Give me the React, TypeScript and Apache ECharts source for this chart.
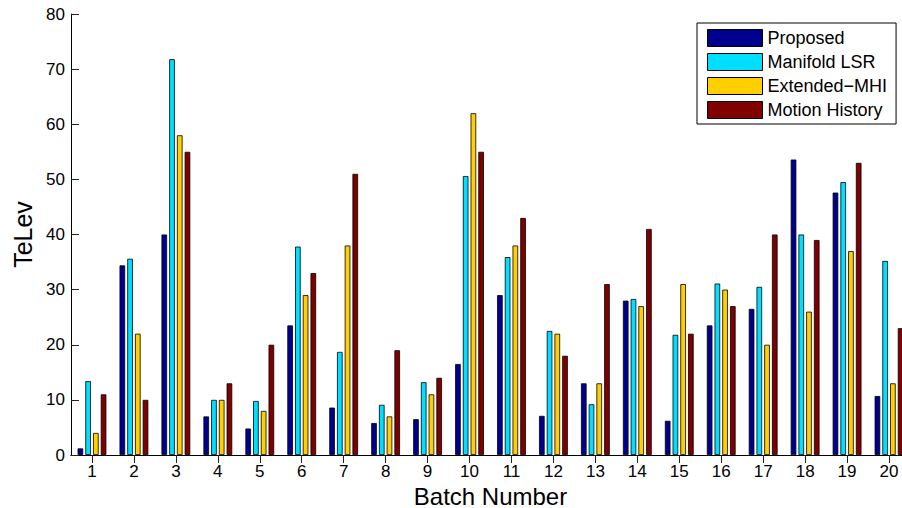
import React, { useEffect, useRef } from "react";
import * as echarts from "echarts";

const categories = ["1","2","3","4","5","6","7","8","9","10","11","12","13","14","15","16","17","18","19","20"];
const seriesNames = ["Proposed", "Manifold LSR", "Extended\u2212MHI", "Motion History"];
const proposed = [1.2, 34.4, 40, 7, 4.8, 23.5, 8.6, 5.8, 6.5, 16.5, 29, 7.1, 13, 28, 6.2, 23.5, 26.5, 53.6, 47.6, 10.7];
const manifoldLSR = [13.4, 35.6, 71.8, 10, 9.8, 37.8, 18.7, 9.1, 13.2, 50.6, 35.9, 22.5, 9.2, 28.3, 21.8, 31.1, 30.5, 40, 49.5, 35.2];
const extendedMHI = [4, 22, 58, 10, 8, 29, 38, 7, 11, 62, 38, 22, 13, 27, 31, 30, 20, 26, 37, 13];
const motionHistory = [11, 10, 55, 13, 20, 33, 51, 19, 14, 55, 43, 18, 31, 41, 22, 27, 40, 39, 53, 23];
const colors = ["#00008F", "#00DFFF", "#FFCF00", "#800000"];

const FONT = "'Liberation Sans', Arial, Helvetica, sans-serif";

export default function App() {
  const ref = useRef<HTMLDivElement>(null);
  useEffect(() => {
    if (!ref.current) return;
    const chart = echarts.init(ref.current, undefined, { renderer: "svg" });
    const data = [proposed, manifoldLSR, extendedMHI, motionHistory];
    const axisLine = { show: true, lineStyle: { color: "#000", width: 1 } };
    const tick = { show: true, inside: true, length: 8, lineStyle: { color: "#222", width: 1 } };
    chart.setOption({
      animation: false,
      backgroundColor: "#fff",
      grid: { left: 71, top: 14, bottom: 53, right: -8, containLabel: false, outerBoundsMode: "none" },
      legend: {
        data: seriesNames,
        orient: "vertical",
        left: 697,
        top: 23,
        itemWidth: 55,
        itemHeight: 17,
        itemGap: 6,
        padding: [6, 9, 5, 10],
        borderColor: "#000",
        borderWidth: 1,
        backgroundColor: "#fff",
        icon: "rect",
        itemStyle: { borderColor: "#000", borderWidth: 1 },
        textStyle: { fontSize: 18, fontFamily: FONT, color: "#000", lineHeight: 17 },
      },
      xAxis: [
        {
          type: "category",
          data: categories,
          position: "bottom",
          axisLine,
          axisTick: { show: false },
          axisLabel: { fontSize: 17, fontFamily: FONT, color: "#000", margin: 8 },
          name: "Batch Number",
          nameLocation: "middle",
          nameGap: 23,
          nameTextStyle: { fontSize: 24, fontFamily: FONT, color: "#000", lineHeight: 24 },
          splitLine: { show: false },
        },
        {
          type: "category",
          data: categories,
          position: "top",
          axisLine,
          axisTick: { ...tick, alignWithLabel: true },
          axisLabel: { show: false },
          splitLine: { show: false },
        },
      ],
      yAxis: [
        {
          type: "value",
          min: 0,
          max: 80,
          interval: 10,
          position: "left",
          axisLine,
          axisTick: tick,
          axisLabel: { fontSize: 17, fontFamily: FONT, color: "#000", margin: 6 },
          name: "TeLev",
          nameLocation: "middle",
          nameGap: 36,
          nameTextStyle: { fontSize: 25, fontFamily: FONT, color: "#000", lineHeight: 25 },
          splitLine: { show: false },
        },
        {
          type: "value",
          min: 0,
          max: 80,
          interval: 10,
          position: "right",
          axisLine,
          axisTick: tick,
          axisLabel: { show: false },
          splitLine: { show: false },
        },
      ],
      series: seriesNames.map((name, i) => ({
        name,
        type: "bar",
        data: data[i],
        xAxisIndex: 0,
        yAxisIndex: 0,
        barWidth: 5.6,
        barGap: "38%",
        itemStyle: { color: colors[i], borderColor: "#000", borderWidth: 0.8 },
      })),
    });
    return () => chart.dispose();
  }, []);
  return (
    <div
      ref={ref}
      style={{ position: "absolute", left: 0, top: 0, width: 902, height: 508 }}
    />
  );
}
